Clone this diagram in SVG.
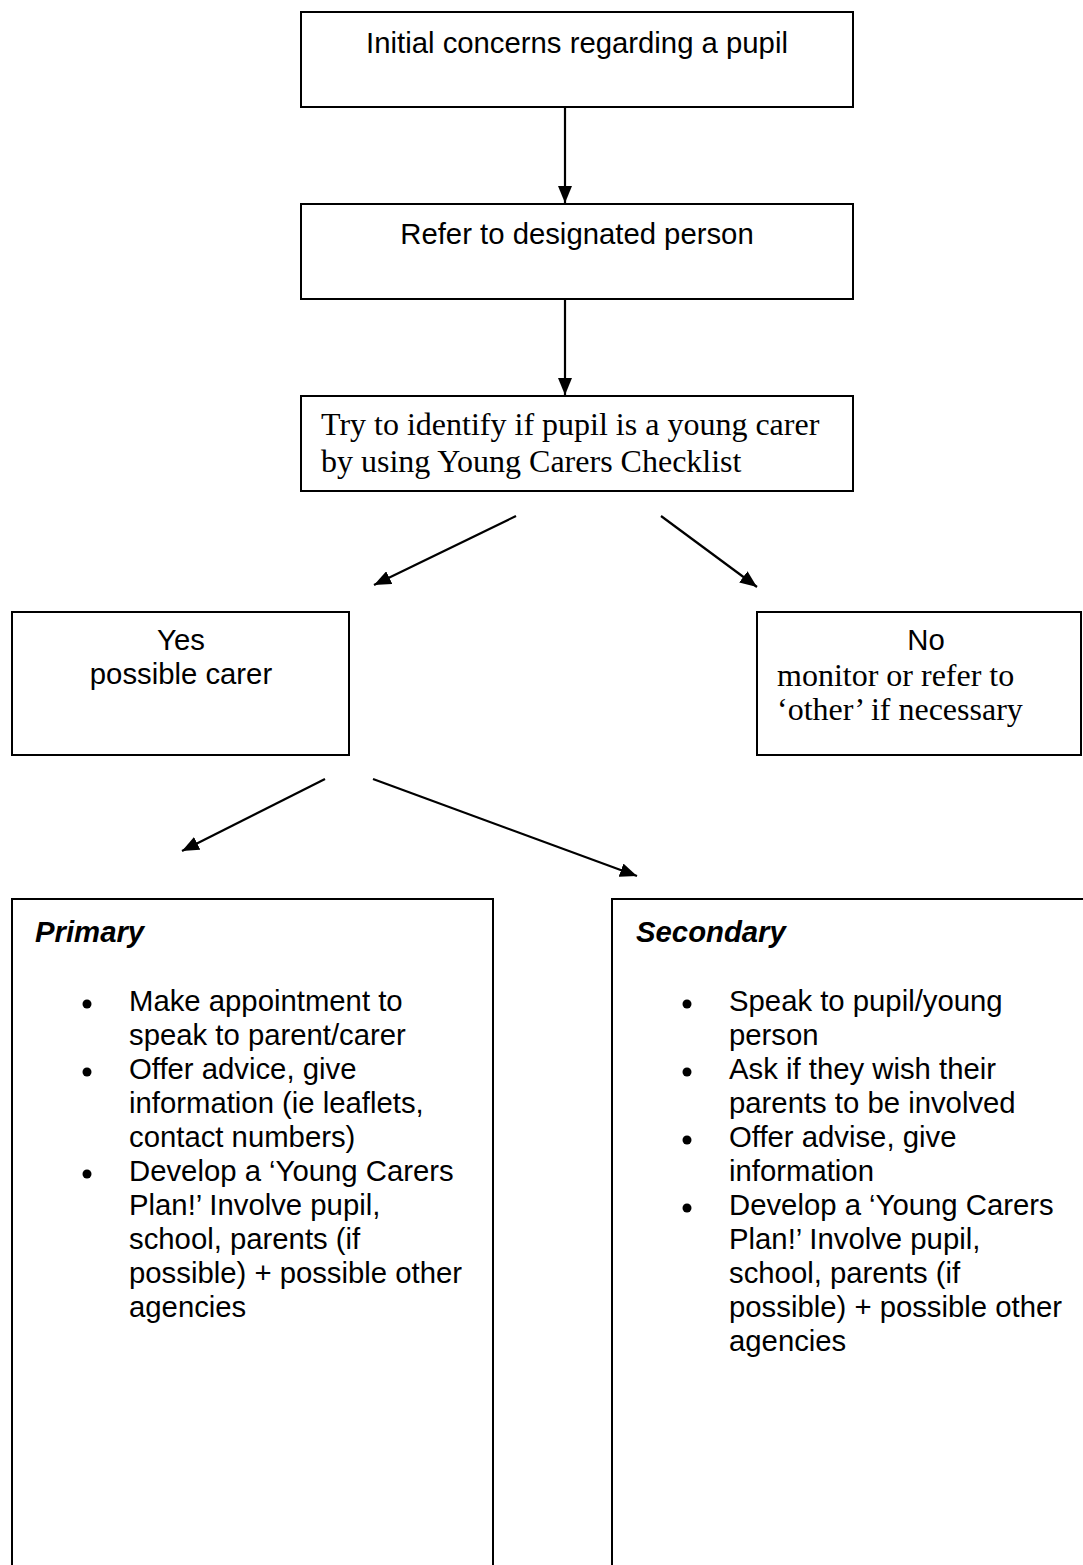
<svg xmlns="http://www.w3.org/2000/svg" width="1083" height="1565" viewBox="0 0 1083 1565">
<style>
.box{fill:#fff;stroke:#000;stroke-width:2}
.a{font-family:"Liberation Sans",Arial,sans-serif;font-size:29.3px;fill:#000}
.t{font-family:"Liberation Serif","Times New Roman",serif;font-size:32px;fill:#000}
.c{text-anchor:middle}
.h{font-weight:bold;font-style:italic}
.conn{stroke:#000;stroke-width:2.2;fill:none;marker-end:url(#ah)}
</style>
<defs>
<marker id="ah" markerUnits="userSpaceOnUse" markerWidth="18" markerHeight="14" refX="17" refY="7" orient="auto">
<path d="M0,0 L17,7 L0,14 z" fill="#000"/>
</marker>
</defs>
<rect width="1083" height="1565" fill="#fff"/>
<g id="connectors">
<line class="conn" x1="565" y1="107" x2="565" y2="203"/>
<line class="conn" x1="565" y1="299" x2="565" y2="395"/>
<line class="conn" x1="516" y1="516" x2="374" y2="585"/>
<line class="conn" x1="661" y1="516" x2="757" y2="587"/>
<line class="conn" x1="325" y1="779" x2="182" y2="851"/>
<line class="conn" x1="373" y1="779" x2="637" y2="876"/>
</g>
<g id="n1">
<rect class="box" x="301" y="12" width="552" height="95"/>
<text class="a c" x="577" y="53">Initial concerns regarding a pupil</text>
</g>
<g id="n2">
<rect class="box" x="301" y="204" width="552" height="95"/>
<text class="a c" x="577" y="244">Refer to designated person</text>
</g>
<g id="n3">
<rect class="box" x="301" y="396" width="552" height="95"/>
<text class="t" x="321" y="435">Try to identify if pupil is a young carer</text>
<text class="t" x="321" y="472">by using Young Carers Checklist</text>
</g>
<g id="yes">
<rect class="box" x="12" y="612" width="337" height="143"/>
<text class="a c" x="181" y="650">Yes</text>
<text class="a c" x="181" y="684">possible carer</text>
</g>
<g id="no">
<rect class="box" x="757" y="612" width="324" height="143"/>
<text class="a c" x="926" y="650">No</text>
<text class="t" x="777" y="686">monitor or refer to</text>
<text class="t" x="777" y="720">‘other’ if necessary</text>
</g>
<g id="primary">
<rect class="box" x="12" y="899" width="481" height="720"/>
<text class="a h" x="35" y="942">Primary</text>
<circle cx="87" cy="1004" r="4.5"/>
<circle cx="87" cy="1072" r="4.5"/>
<circle cx="87" cy="1174" r="4.5"/>
<text class="a" x="129" y="1011">Make appointment to</text>
<text class="a" x="129" y="1045">speak to parent/carer</text>
<text class="a" x="129" y="1079">Offer advice, give</text>
<text class="a" x="129" y="1113">information (ie leaflets,</text>
<text class="a" x="129" y="1147">contact numbers)</text>
<text class="a" x="129" y="1181">Develop a ‘Young Carers</text>
<text class="a" x="129" y="1215">Plan!’ Involve pupil,</text>
<text class="a" x="129" y="1249">school, parents (if</text>
<text class="a" x="129" y="1283">possible) + possible other</text>
<text class="a" x="129" y="1317">agencies</text>
</g>
<g id="secondary">
<rect class="box" x="612" y="899" width="500" height="720"/>
<text class="a h" x="636" y="942">Secondary</text>
<circle cx="687" cy="1004" r="4.5"/>
<circle cx="687" cy="1072" r="4.5"/>
<circle cx="687" cy="1140" r="4.5"/>
<circle cx="687" cy="1208" r="4.5"/>
<text class="a" x="729" y="1011">Speak to pupil/young</text>
<text class="a" x="729" y="1045">person</text>
<text class="a" x="729" y="1079">Ask if they wish their</text>
<text class="a" x="729" y="1113">parents to be involved</text>
<text class="a" x="729" y="1147">Offer advise, give</text>
<text class="a" x="729" y="1181">information</text>
<text class="a" x="729" y="1215">Develop a ‘Young Carers</text>
<text class="a" x="729" y="1249">Plan!’ Involve pupil,</text>
<text class="a" x="729" y="1283">school, parents (if</text>
<text class="a" x="729" y="1317">possible) + possible other</text>
<text class="a" x="729" y="1351">agencies</text>
</g>
</svg>
